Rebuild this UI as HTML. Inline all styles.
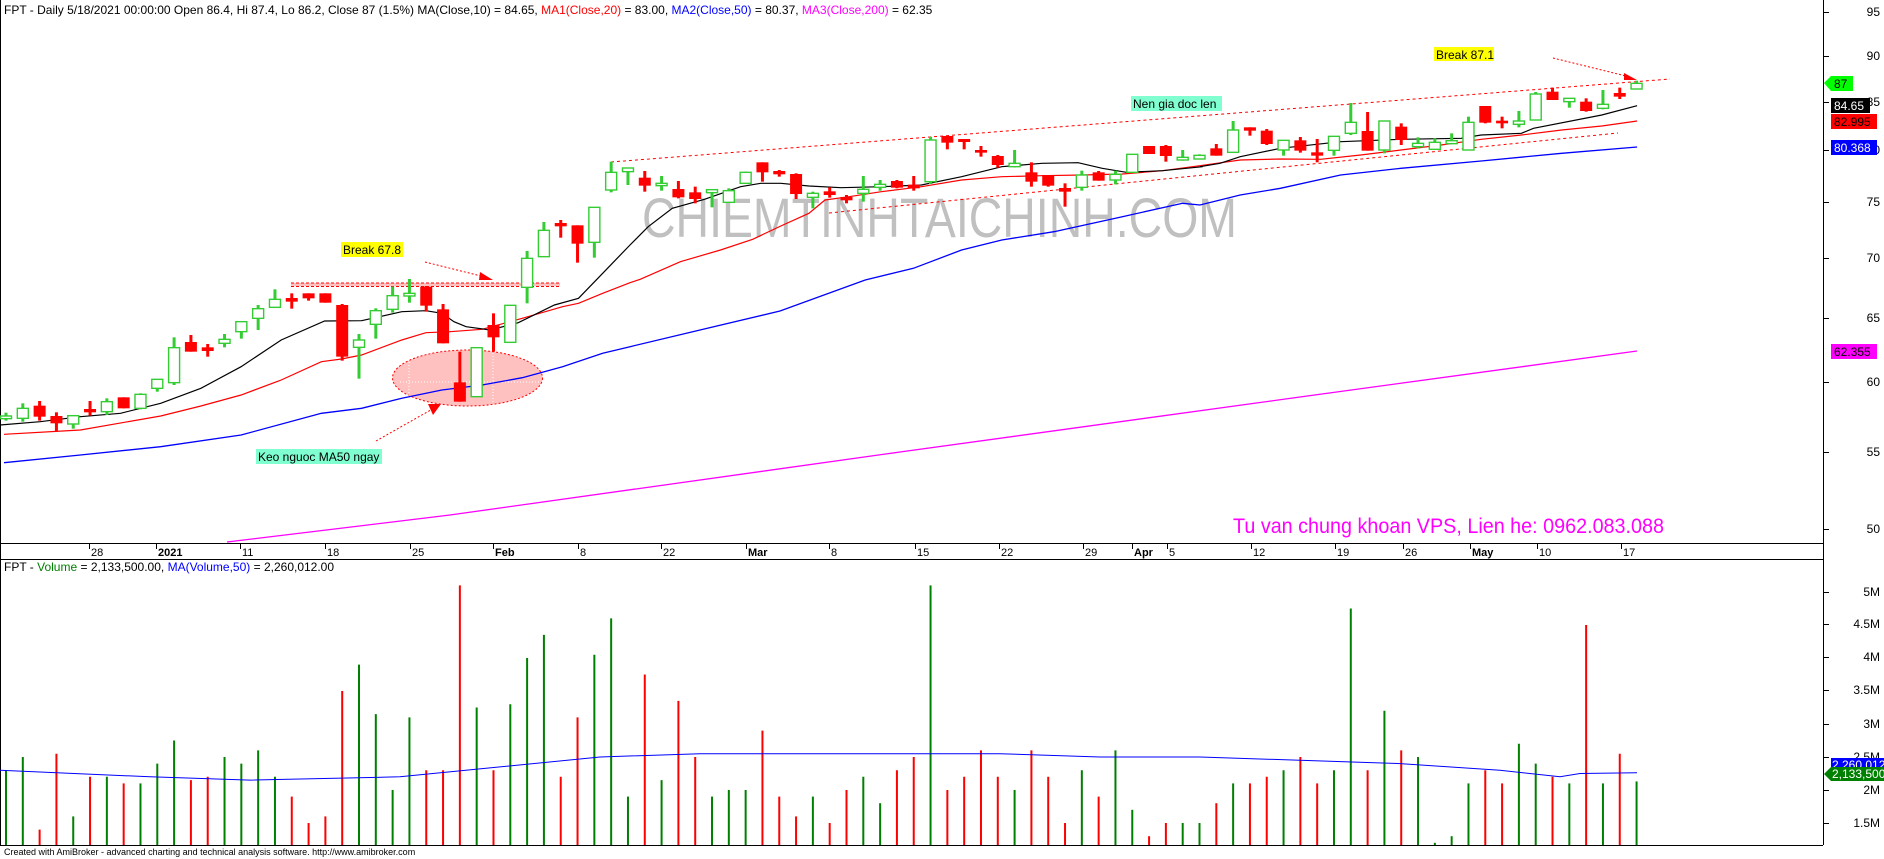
<!DOCTYPE html>
<html><head><meta charset="utf-8"><style>
html,body{margin:0;padding:0;background:#fff;}
svg{display:block;font-family:"Liberation Sans",Arial,sans-serif;}
</style></head><body>
<svg id="s" width="1884" height="859" viewBox="0 0 1884 859" xmlns="http://www.w3.org/2000/svg">
<rect width="1884" height="859" fill="#fff"/>
<text x="4" y="14" font-size="12" fill="#000">FPT - Daily 5/18/2021 00:00:00 Open 86.4, Hi 87.4, Lo 86.2, Close 87 (1.5%) MA(Close,10) = 84.65, <tspan fill="#ff0000">MA1(Close,20)</tspan> = 83.00, <tspan fill="#0000ff">MA2(Close,50)</tspan> = 80.37, <tspan fill="#ff00ff">MA3(Close,200)</tspan> = 62.35</text>
<text x="642" y="237" font-size="56" fill="#c0c0c0" textLength="595" lengthAdjust="spacingAndGlyphs">CHIEMTINHTAICHINH.COM</text>
<g id="g"></g>
<text x="1233" y="533" font-size="21" fill="#ff00ff" textLength="431" lengthAdjust="spacingAndGlyphs">Tu van chung khoan VPS, Lien he: 0962.083.088</text>
<text x="4" y="571" font-size="12" fill="#000">FPT - <tspan fill="#008000">Volume</tspan> = 2,133,500.00, <tspan fill="#0000ff">MA(Volume,50)</tspan> = 2,260,012.00</text>
<text x="4" y="855" font-size="9" fill="#000">Created with AmiBroker - advanced charting and technical analysis software. http://www.amibroker.com</text>
</svg>
<script>
var G=document.getElementById("g"),h="";
function X(i){return 6+16.81*i;}
var z10=[["G",798,806,788,812],["G",775,805,760,815],["R",767,800,753,812],["R",798,820,787,845],["G",797,822,797,836],["R",780,784,753,797],["G",755,785,745,795],["R",742,775,742,775],["G",733,775,730,778],["G",688,715,688,725],["G",593,698,562,705],["R",576,605,555,605],["R",595,600,582,620],["G",568,580,552,592],["G",515,545,515,566],["G",476,505,465,540],["G",448,472,418,472],["R",447,452,430,476],["R",430,445,430,452],["R",430,458,430,458],["R",465,620,462,632],["G",570,592,552,686],["G",482,523,475,566],["G",437,478,410,488],["G",430,438,387,458],["R",410,467,408,485],["R",478,580,462,580],["R",697,755,605,755],["G",593,740,593,740],["R",525,562,490,605],["G",466,577,466,577],["G",325,412,303,460],["G",241,320,216,320],["R",222,226,210,263],["R",226,281,226,338],["G",172,277,172,323]];
var z11=[["G",397,450,365,457],["G",387,392,385,435],["R",413,437,393,455],["G",430,437,408,452],["R",447,472,423,475],["R",457,477,440,490],["G",452,455,448,502],["G",452,487,445,487],["G",397,430,395,430],["R",367,397,367,425],["R",393,403,390,410],["R",402,462,400,477],["G",460,472,455,505],["R",457,462,442,473],["R",474,478,465,490],["G",448,460,408,485],["G",433,442,420,452],["R",423,443,420,445],["R",437,442,408,452],["G",300,425,290,432],["R",288,308,288,328],["R",300,303,300,328],["R",330,338,318,350],["R",348,375,345,383],["G",370,380,330,382],["R",397,425,367,440],["R",405,437,405,440],["R",447,452,430,500],["G",405,442,392,452],["R",397,422,393,422],["G",403,420,392,433],["G",343,397,343,397],["R",318,342,318,342],["R",318,348,315,365],["G",352,360,330,362],["G",346,357,343,357]];
var z12=[["R",385,407,372,407],["G",330,397,303,397],["R",322,332,322,347],["R",332,372,327,375],["G",361,390,361,407],["R",361,392,351,398],["R",400,404,357,427],["G",349,391,349,407],["G",307,340,249,345],["R",333,392,276,392],["G",303,390,303,400],["R",320,360,310,375],["G",370,380,352,385],["G",367,388,355,388],["G",365,368,340,368],["G",307,390,290,390],["R",258,308,258,310],["R",302,310,290,325],["G",303,313,273,322],["G",222,300,216,300],["R",215,240,203,240],["G",235,245,235,263],["R",245,273,235,275],["G",253,265,210,268],["R",222,227,203,237],["G",190,207,182,207]];
var C=[];
z10.forEach(function(c){C.push([c[0],150+c[1]/3,150+c[2]/3,150+c[3]/3,150+c[4]/3]);});
z11.forEach(function(c){C.push([c[0],40+c[1]/3,40+c[2]/3,40+c[3]/3,40+c[4]/3]);});
z12.forEach(function(c){C.push([c[0],20+c[1]/3,20+c[2]/3,20+c[3]/3,20+c[4]/3]);});
var GR="#33cc33",RD="#ff0000";
h+='<line x1="0.5" y1="0" x2="0.5" y2="845" stroke="#000"/>';
h+='<line x1="1823.5" y1="0" x2="1823.5" y2="845" stroke="#000"/>';
h+='<line x1="0" y1="543.5" x2="1823" y2="543.5" stroke="#000"/>';
h+='<line x1="0" y1="559.5" x2="1823" y2="559.5" stroke="#000"/>';
h+='<line x1="0" y1="845.5" x2="1823" y2="845.5" stroke="#000"/>';
[[95,12],[90,56],[85,102],[80,150],[75,202],[70,258],[65,318],[60,382],[55,452],[50,529]].forEach(function(t){
h+='<line x1="1823" y1="'+t[1]+'.5" x2="1829" y2="'+t[1]+'.5" stroke="#000"/>';
h+='<text x="1880" y="'+(t[1]+4)+'" font-size="12" text-anchor="end">'+t[0]+'</text>';});
[["5M",592],["4.5M",624],["4M",657],["3.5M",690],["3M",724],["2.5M",757],["2M",790],["1.5M",823]].forEach(function(t){
h+='<line x1="1823" y1="'+t[1]+'.5" x2="1829" y2="'+t[1]+'.5" stroke="#000"/>';
h+='<text x="1880" y="'+(t[1]+4)+'" font-size="12" text-anchor="end">'+t[0]+'</text>';});
[["28",89,0],["2021",156,1],["11",240,0],["18",325,0],["25",410,0],["Feb",493,1],["8",578,0],["22",661,0],["Mar",746,1],["8",829,0],["15",915,0],["22",999,0],["29",1083,0],["Apr",1132,1],["5",1167,0],["12",1251,0],["19",1335,0],["26",1403,0],["May",1470,1],["10",1537,0],["17",1621,0]].forEach(function(t){
h+='<line x1="'+t[1]+'.5" y1="544" x2="'+t[1]+'.5" y2="549" stroke="#000"/>';
h+='<text x="'+(t[1]+2)+'" y="556" font-size="11"'+(t[2]?' font-weight="bold"':'')+'>'+t[0]+'</text>';});
h+='<rect x="291" y="283" width="269" height="3" fill="#ffc0c0"/>';
h+='<line x1="291" y1="283" x2="560" y2="283" stroke="'+RD+'" stroke-dasharray="3,2"/><line x1="291" y1="286.5" x2="560" y2="286.5" stroke="'+RD+'" stroke-dasharray="3,2"/>';
h+='<ellipse cx="467.5" cy="378" rx="75" ry="28" fill="#ffc0c0" stroke="'+RD+'" stroke-dasharray="2,2"/>';
h+='<line x1="409" y1="350" x2="409" y2="405" stroke="#fff" stroke-dasharray="1,2"/><line x1="493" y1="350" x2="493" y2="405" stroke="#fff" stroke-dasharray="1,2"/><line x1="400" y1="382" x2="540" y2="382" stroke="#fff" stroke-dasharray="1,2"/>';
function seg(pts,x0,y0){return pts.map(function(p){return (x0+p[0]/2.489).toFixed(1)+','+(y0+p[1]/3).toFixed(1);});}
function line(parts,col,w){h+='<polyline points="'+parts.join(' ')+'" fill="none" stroke="'+col+'" stroke-width="'+w+'"/>';}
h+='<polyline points="227,542 450,515 900,452 1300,397 1637,351" fill="none" stroke="#ff00ff" stroke-width="1.3"/>';
line([].concat(
 seg([[10,938],[200,915],[400,890],[600,855],[800,790],[900,775],[1000,745],[1100,720],[1200,705],[1300,683],[1400,650],[1500,610],[1568,590]],0,150),
 ["700,330","780,311"],
 seg([[660,720],[780,685],[900,630],[1000,600],[1130,575],[1300,530],[1450,490]],600,40),
 seg([[0,555],[100,525],[200,505],[350,465],[500,445],[700,423],[900,400],[1088,381]],1200,20)),"#0000ff",1.3);
line([].concat(
 seg([[10,853],[200,840],[400,798],[500,768],[600,735],[700,690],[800,635],[850,627],[900,615],[1000,570],[1060,548],[1120,545],[1200,538],[1300,505],[1400,470],[1440,460],[1500,430],[1568,398]],0,150),
 seg([[100,718],[200,665],[300,630],[380,598],[450,558],[520,520],[560,480],[620,470],[700,455],[800,440],[900,420],[1000,410],[1100,407],[1200,405],[1300,402],[1400,392]],600,40),
 seg([[0,437],[100,420],[200,417],[300,418],[400,405],[500,390],[600,375],[700,358],[800,345],[900,330],[1000,318],[1088,303]],1200,20)),RD,1.2);
line([].concat(
 seg([[0,825],[100,815],[200,800],[300,790],[400,760],[500,715],[600,650],[700,570],[808,513],[900,512],[1000,485],[1060,482],[1100,490],[1130,515],[1160,530],[1220,540],[1290,518],[1380,465],[1440,445],[1500,370],[1568,285]],0,150),
 seg([[120,560],[180,505],[260,478],[350,440],[400,430],[450,430],[520,438],[600,443],[700,440],[800,435],[900,410],[1000,380],[1100,370],[1190,368],[1250,385],[1310,397],[1400,392],[1500,380]],600,40),
 seg([[0,440],[50,430],[100,410],[200,385],[350,365],[500,358],[650,355],[700,345],[800,340],[830,325],[1000,285],[1088,257]],1200,20)),"#000",1.2);
h+='<line x1="611" y1="162" x2="1670" y2="79" stroke="'+RD+'" stroke-dasharray="3,3"/><line x1="611" y1="162" x2="611" y2="170" stroke="'+RD+'" stroke-dasharray="2,2"/>';
h+='<line x1="829" y1="213" x2="1618" y2="133" stroke="'+RD+'" stroke-dasharray="3,3"/>';
C.forEach(function(c,i){var x=X(i),col=c[0]=="G"?GR:RD;var bt=Math.min(c[1],c[2]),bb=Math.max(c[1],c[2]);if(bb-bt<2){bt-=1;bb+=1;}
h+='<line x1="'+x+'" y1="'+c[3]+'" x2="'+x+'" y2="'+c[4]+'" stroke="'+col+'" stroke-width="3"/>';
if(c[0]=="G")h+='<rect x="'+(x-5.5)+'" y="'+bt+'" width="11" height="'+(bb-bt)+'" fill="#fff" stroke="'+col+'" stroke-width="1.4"/>';
else h+='<rect x="'+(x-6)+'" y="'+bt+'" width="12" height="'+(bb-bt)+'" fill="'+col+'"/>';});
h+='<rect x="341" y="242" width="62" height="15" fill="#ffff00"/><text x="343" y="254" font-size="12">Break 67.8</text>';
h+='<line x1="425" y1="262" x2="485" y2="277" stroke="'+RD+'" stroke-dasharray="2,2"/><polygon points="480,272 493,280 479,280" fill="'+RD+'"/>';
h+='<rect x="256" y="449" width="126" height="15" fill="#80ffd0"/><text x="258" y="461" font-size="12">Keo nguoc MA50 ngay</text>';
h+='<line x1="376" y1="441" x2="436" y2="407" stroke="'+RD+'" stroke-dasharray="2,2"/><polygon points="428,404 441,404 433,415" fill="'+RD+'"/>';
h+='<rect x="1131" y="96" width="91" height="15" fill="#80ffd0"/><text x="1133" y="108" font-size="12">Nen gia doc len</text>';
h+='<rect x="1434" y="47" width="60" height="14" fill="#ffff00"/><text x="1436" y="59" font-size="12">Break 87.1</text>';
h+='<line x1="1553" y1="58" x2="1630" y2="77" stroke="'+RD+'" stroke-dasharray="2,2"/><polygon points="1624,73 1637,80 1624,80" fill="'+RD+'"/>';
h+='<polygon points="1824,83 1831,76 1853,76 1853,91 1831,91" fill="#00ff00"/><text x="1834" y="88" font-size="12">87</text>';
h+='<rect x="1831" y="98" width="39" height="15" fill="#000"/><text x="1834" y="110" font-size="12" fill="#fff">84.65</text>';
h+='<rect x="1831" y="114" width="46" height="15" fill="#ff0000"/><text x="1834" y="126" font-size="12">82.995</text>';
h+='<rect x="1831" y="140" width="46" height="15" fill="#0000ff"/><text x="1834" y="152" font-size="12" fill="#fff">80.368</text>';
h+='<rect x="1831" y="344" width="46" height="15" fill="#ff00ff"/><text x="1834" y="356" font-size="12">62.355</text>';
var v=[2.3,2.5,1.4,2.55,1.6,2.2,2.2,2.1,2.1,2.4,2.75,2.15,2.2,2.5,2.4,2.6,2.2,1.9,1.5,1.6,3.5,3.9,3.15,2.0,3.1,2.3,2.3,5.1,3.25,2.3,3.3,4.0,4.35,2.2,3.1,4.05,4.6,1.9,3.75,2.15,3.35,2.5,1.9,2.0,2.0,2.9,1.9,1.6,1.9,1.5,2.0,2.2,1.8,2.3,2.5,5.1,2.0,2.2,2.6,2.2,2.0,2.6,2.2,1.5,2.3,1.9,2.6,1.7,1.3,1.5,1.5,1.5,1.8,2.1,2.1,2.2,2.3,2.5,2.1,2.3,4.75,2.3,3.2,2.6,2.5,1.2,1.3,2.1,2.3,2.1,2.7,2.4,2.2,2.1,4.5,2.1,2.55,2.13];
function VY(m){return 592+(5-m)*66;}
for(var i=0;i<C.length;i++){var m=v[i]||2.0;var col=C[i][0]=="G"?"#008000":"#ff0000";
h+='<line x1="'+X(i)+'" y1="'+VY(m)+'" x2="'+X(i)+'" y2="845" stroke="'+col+'" stroke-width="2"/>';}
var ma=[[0,2.3],[150,2.2],[250,2.15],[400,2.2],[500,2.35],[600,2.5],[700,2.55],[900,2.55],[1000,2.55],[1100,2.5],[1200,2.5],[1300,2.45],[1400,2.4],[1500,2.3],[1560,2.2],[1580,2.25],[1637,2.26]];
h+='<polyline points="'+ma.map(function(p){return p[0]+','+VY(p[1]).toFixed(1);}).join(' ')+'" fill="none" stroke="#0000ff" stroke-width="1"/>';
h+='<rect x="1831" y="758" width="53" height="14" fill="#0000ff"/><text x="1832" y="769" font-size="12" fill="#fff">2,260,012</text>';
h+='<polygon points="1824,774 1831,767 1884,767 1884,781 1831,781" fill="#008000"/><text x="1832" y="778" font-size="12" fill="#fff">2,133,500</text>';
G.innerHTML=h;
</script>
</body></html>
